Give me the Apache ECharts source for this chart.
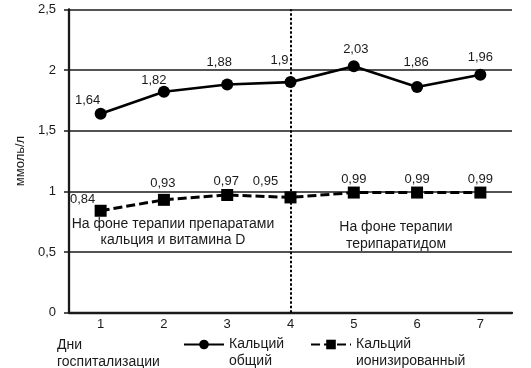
<!DOCTYPE html>
<html>
<head>
<meta charset="utf-8">
<script src="https://cdn.jsdelivr.net/npm/echarts@6/dist/echarts.min.js"></script>
<style>
html,body{margin:0;padding:0;background:#fff;}
#c{width:531px;height:368px;}
</style>
</head>
<body>
<div id="c"></div>
<script>
var days = ['1', '2', '3', '4', '5', '6', '7'];
var calciumTotal = [1.64, 1.82, 1.88, 1.9, 2.03, 1.86, 1.96];
var calciumIonized = [0.84, 0.93, 0.97, 0.95, 0.99, 0.99, 0.99];
var yTicks = [0, 0.5, 1, 1.5, 2, 2.5];
var seriesNames = ['Кальций\nобщий', 'Кальций\nионизированный'];
var xAxisTitle = 'Дни\nгоспитализации';
var yAxisTitle = 'ммоль/л';
var noteLeft = 'На фоне терапии препаратами\nкальция и витамина D';
var noteRight = 'На фоне терапии\nтерипаратидом';
var splitDay = '4';

// label placement (style only)
var totalLabelShift = [[-13,-13],[-10,-11],[-8,-22],[-11,-22],[2,-17],[-1,-25],[0,-17]];
var ionLabelShift = [[-18,-11],[-1,-16],[-1,-14],[-25,-16],[0,-13],[0,-13],[0,-13]];

var FONT = 'Liberation Sans, Arial, sans-serif';
var INK = '#1a1a1a';
function fmt(v){ return String(v).replace('.', ','); }

function buildData(vals, shifts){
  return vals.map(function(v, i){
    return {value: v, label: {offset: shifts[i]}};
  });
}

var legendText = {
  color: INK, fontSize: 14, fontFamily: FONT,
  rich: {
    s: {fontSize: 1, lineHeight: 16},
    t: {color: INK, fontSize: 14, fontFamily: FONT, lineHeight: 17}
  }
};
function legendFmt(name){
  return '{s| }\n' + name.split('\n').map(function(l){ return '{t|' + l + '}'; }).join('\n');
}

var chart = echarts.init(document.getElementById('c'));
chart.setOption({
  animation: false,
  backgroundColor: '#fff',
  textStyle: {fontFamily: FONT},
  grid: {left: 69, right: 19, top: 9.3, bottom: 55.3},
  xAxis: {
    type: 'category',
    data: days,
    boundaryGap: true,
    axisLine: {lineStyle: {color: INK, width: 2.3}},
    axisTick: {show: false},
    axisLabel: {color: INK, fontSize: 13, fontFamily: FONT, margin: 5}
  },
  yAxis: {
    type: 'value',
    min: yTicks[0],
    max: yTicks[yTicks.length - 1],
    interval: yTicks[1] - yTicks[0],
    name: yAxisTitle,
    nameLocation: 'middle',
    nameGap: 36,
    nameTextStyle: {color: INK, fontSize: 13, fontFamily: FONT},
    axisLine: {show: true, lineStyle: {color: INK, width: 2.3}},
    axisTick: {show: true, length: 5, lineStyle: {color: INK, width: 1.5}},
    axisLabel: {color: INK, fontSize: 13, fontFamily: FONT, margin: 13,
      formatter: function(v){ return fmt(v); }},
    splitLine: {show: true, lineStyle: {color: INK, width: 1.5}}
  },
  legend: [
    {
      left: 183, top: 327, padding: 0,
      data: [seriesNames[0]],
      itemWidth: 40, itemHeight: 12, itemGap: 0,
      formatter: legendFmt,
      textStyle: legendText
    },
    {
      left: 310, top: 327, padding: 0,
      data: [seriesNames[1]],
      itemWidth: 40, itemHeight: 12, itemGap: 0,
      formatter: legendFmt,
      textStyle: legendText
    }
  ],
  series: [
    {
      name: seriesNames[0],
      type: 'line',
      data: buildData(calciumTotal, totalLabelShift),
      symbol: 'circle',
      symbolSize: 12,
      itemStyle: {color: '#000'},
      lineStyle: {color: '#000', width: 2.6},
      label: {show: true, position: 'inside', color: INK, fontSize: 13, fontFamily: FONT,
        formatter: function(p){ return fmt(p.value); }},
      markLine: {
        silent: true,
        symbol: ['none', 'none'],
        label: {show: false},
        lineStyle: {color: '#000', type: [2.5, 2], width: 2},
        data: [{xAxis: splitDay}]
      },
      z: 3
    },
    {
      name: seriesNames[1],
      type: 'line',
      data: buildData(calciumIonized, ionLabelShift),
      symbol: 'rect',
      symbolSize: 12,
      itemStyle: {color: '#000'},
      lineStyle: {color: '#000', width: 3, type: [9, 4]},
      label: {show: true, position: 'inside', color: INK, fontSize: 13, fontFamily: FONT,
        formatter: function(p){ return fmt(p.value); }},
      z: 3
    }
  ],
  graphic: [
    {type: 'text', left: 57, top: 337,
      style: {text: xAxisTitle, fill: INK, font: '14px ' + FONT, lineHeight: 17}},
    {type: 'text', x: 173, y: 232,
      style: {text: noteLeft, fill: INK, font: '14px ' + FONT, lineHeight: 16.5, align: 'center', verticalAlign: 'middle'}},
    {type: 'text', x: 396, y: 235.5,
      style: {text: noteRight, fill: INK, font: '14px ' + FONT, lineHeight: 16.5, align: 'center', verticalAlign: 'middle'}}
  ]
});
</script>
</body>
</html>
